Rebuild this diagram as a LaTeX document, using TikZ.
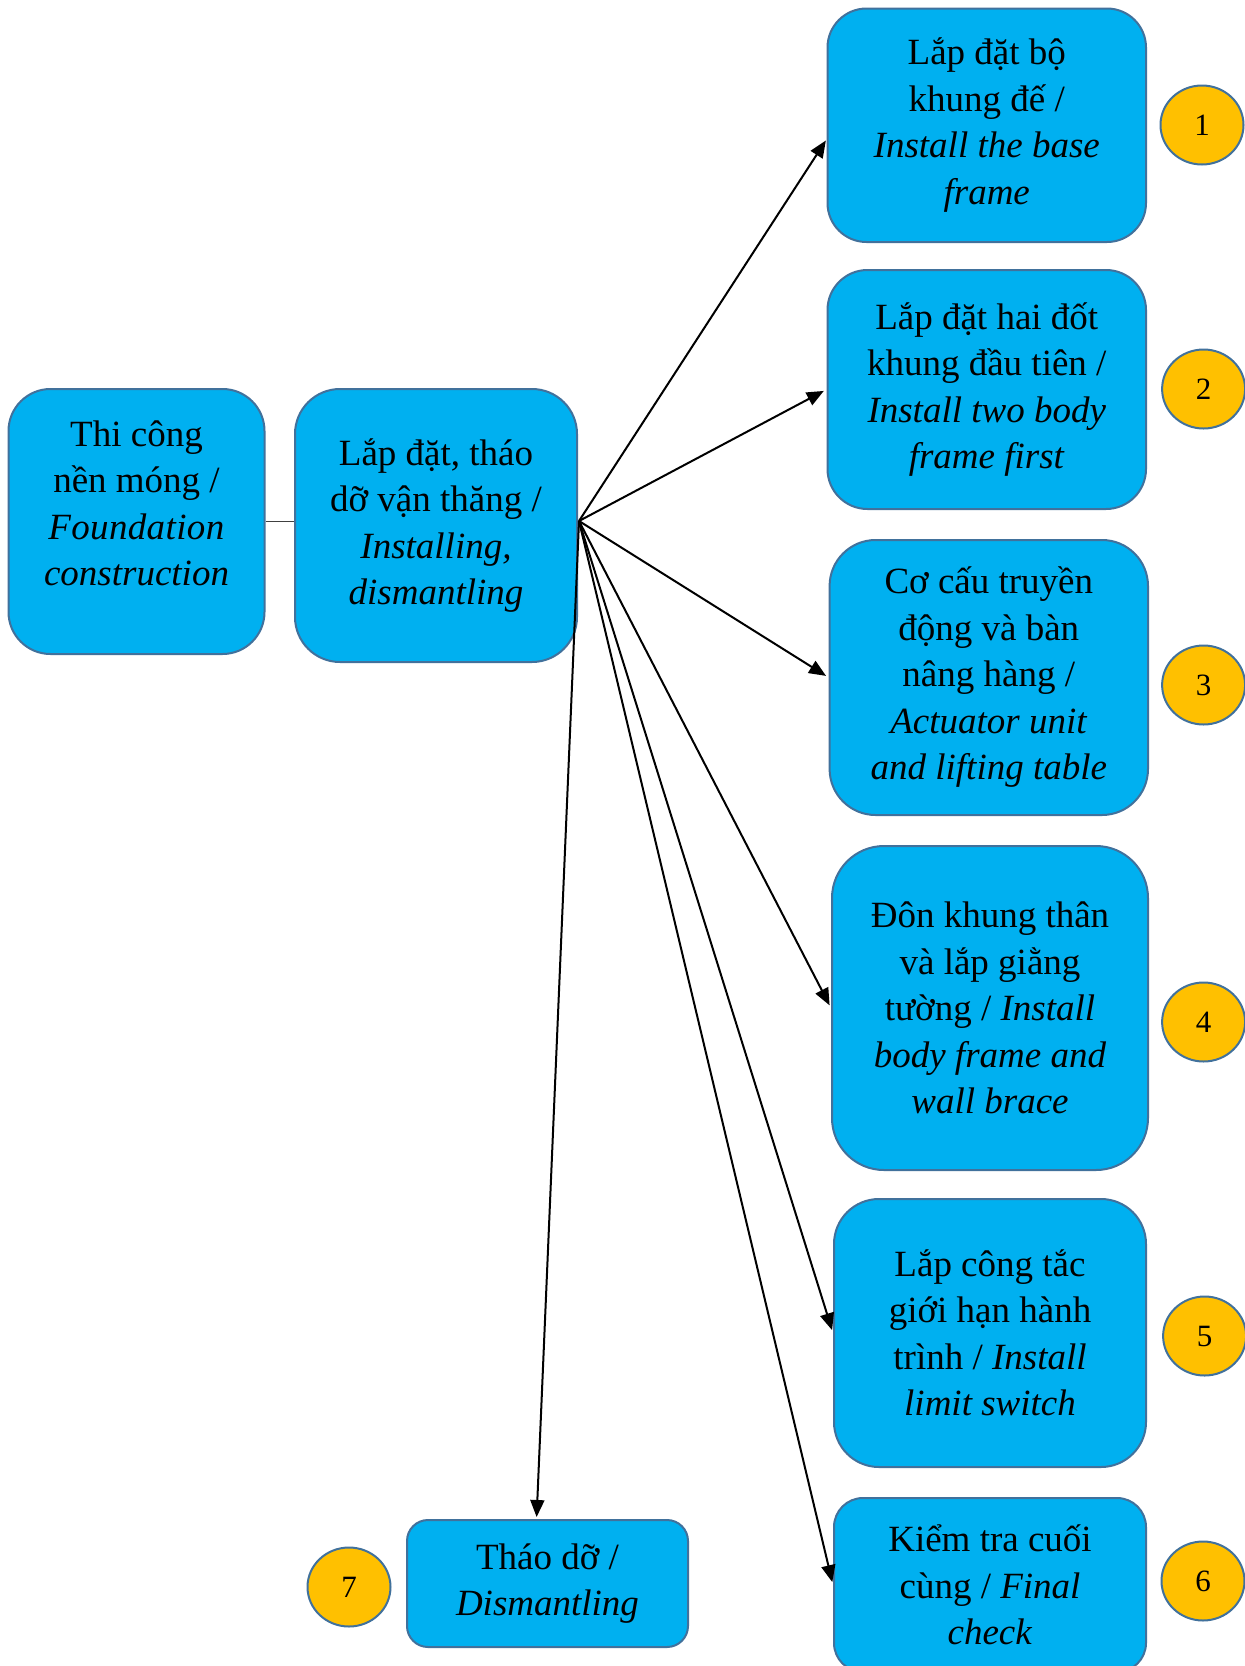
\documentclass[tikz,border=0pt]{standalone}
\usepackage{fontspec}
\setmainfont{Liberation Serif}[ItalicFont={Liberation Serif Italic}]
\usetikzlibrary{arrows.meta,shapes.geometric}
\definecolor{boxfill}{HTML}{00B0F0}
\definecolor{boxline}{HTML}{41719C}
\definecolor{circfill}{HTML}{FFC000}
\definecolor{linkgray}{HTML}{404040}
\tikzset{
  box/.style={draw=boxline, fill=boxfill, line width=2pt, align=center, inner sep=0pt,
    font=\fontsize{37}{46.5}\selectfont},
  boxtext/.style={align=center, inner sep=0pt, font=\fontsize{37}{46.5}\selectfont},
  num/.style={ellipse, draw=boxline, fill=circfill, line width=2pt, inner sep=0pt,
    minimum width=83pt, minimum height=79pt, font=\fontsize{31}{32}\selectfont},
  arr/.style={-{Triangle[length=17pt,width=14pt]}, line width=2pt, shorten >=3pt},
  link/.style={draw=linkgray, line width=1.3pt},
}
\begin{document}
\begin{tikzpicture}[x=1pt,y=-1pt]
\useasboundingbox (0,0) rectangle (1245,1666);
\clip (0,0) rectangle (1245,1666);
\fill[white] (0,0) rectangle (1245,1666);

% left box
\node[box, minimum width=256pt, minimum height=265pt, rounded corners=42pt] (a) at (136.5,521.5) {};
\node[boxtext] (at) at (136.5,503.5) {Thi công\\ nền móng /\\ \textit{\addfontfeature{LetterSpace=1}Foundation}\\ \textit{construction}};

% hub box
\node[box, minimum width=282pt, minimum height=273pt, rounded corners=45pt] (b) at (436,525.5)
  {Lắp đặt, tháo\\ dỡ vận thăng /\\ \textit{Installing,}\\ \textit{dismantling}};

% right column
\node[box, minimum width=318.5pt, minimum height=233.5pt, rounded corners=39pt] (b1) at (986.75,125.25)
  {Lắp đặt bộ\\ khung đế /\\ \textit{Install the base}\\ \textit{frame}};
\node[box, minimum width=318.5pt, minimum height=239pt, rounded corners=40pt] (b2) at (986.75,389.5)
  {Lắp đặt hai đốt\\ khung đầu tiên /\\ \textit{Install two body}\\ \textit{frame first}};
\node[box, minimum width=318.4pt, minimum height=275pt, rounded corners=46pt] (b3) at (988.8,677.5)
  {Cơ cấu truyền\\ động và bàn\\ nâng hàng /\\ \textit{Actuator unit}\\ \textit{and lifting table}};
\node[box, minimum width=316pt, minimum height=324pt, rounded corners=52pt] (b4) at (990,1008)
  {Đôn khung thân\\ và lắp giằng\\ tường / \textit{Install}\\ \textit{body frame and}\\ \textit{wall brace}};
\node[box, minimum width=312pt, minimum height=268pt, rounded corners=45pt] (b5) at (990,1333)
  {Lắp công tắc\\ giới hạn hành\\ trình / \textit{Install}\\ \textit{limit switch}};
\node[box, minimum width=312pt, minimum height=174pt, rounded corners=29pt] (b6) at (990,1585)
  {Kiểm tra cuối\\ cùng / \textit{Final}\\ \textit{check}};
\node[box, minimum width=281pt, minimum height=127pt, rounded corners=21pt] (b7) at (547.5,1583.5)
  {Tháo dỡ /\\ \textit{Dismantling}};

% number circles
\node[num] (c1) at (1202,125) {1};
\node[num] (c2) at (1203.6,389) {2};
\node[num] (c3) at (1203.6,685) {3};
\node[num] (c4) at (1203.6,1022) {4};
\node[num] (c5) at (1204.6,1336) {5};
\node[num] (c6) at (1203,1581) {6};
\node[num] (c7) at (349,1587) {7};

% connectors
\coordinate (hub) at (579,521);
\coordinate (t1) at (827.5,138);
\coordinate (t7) at (536.5,1520);
\draw[link] (a.east |- 0,521.5) -- (b.west |- 0,521.5);
\draw[arr] (hub) -- (t1);
\draw[arr] (hub) -- (b2.west);
\draw[arr] (hub) -- (b3.west);
\draw[arr] (hub) -- (b4.west);
\draw[arr] (hub) -- (b5.west);
\draw[arr] (hub) -- (b6.west);
\draw[arr] (hub) -- (t7);
\end{tikzpicture}
\end{document}
